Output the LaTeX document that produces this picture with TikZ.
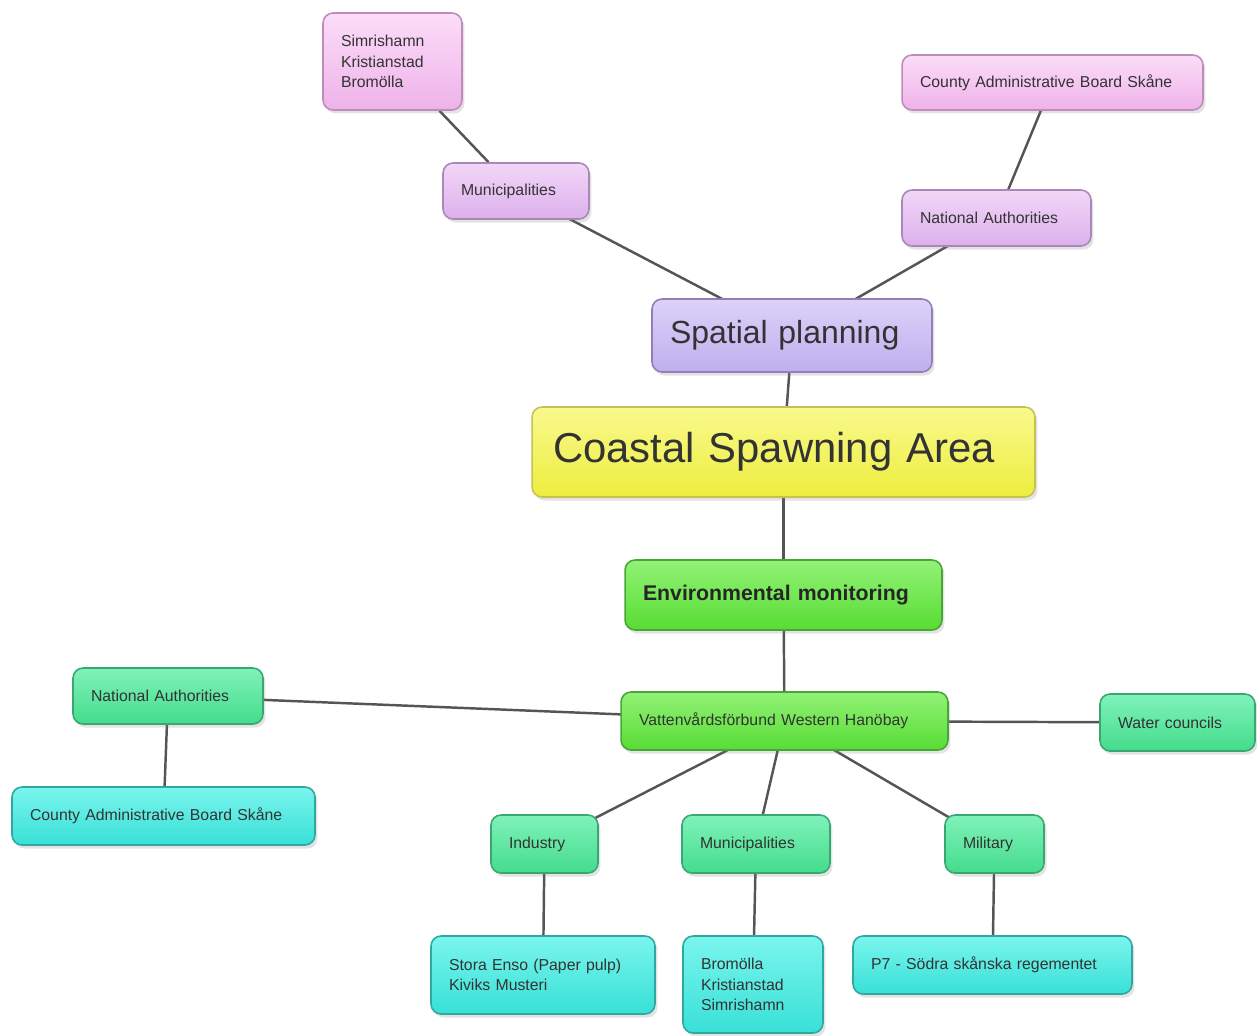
\documentclass[tikz,border=0pt]{standalone}
\usepackage{fontspec}
\setmainfont{Liberation Sans}
\usetikzlibrary{shadows, backgrounds}
\definecolor{pinktop}{HTML}{FBDDF8}
\definecolor{pinkbot}{HTML}{EFB2EA}
\definecolor{pinkline}{HTML}{BE8CB9}
\definecolor{liltop}{HTML}{F2D6F8}
\definecolor{lilbot}{HTML}{DCB0EC}
\definecolor{lilline}{HTML}{A888B5}
\definecolor{lavtop}{HTML}{DCD2F9}
\definecolor{lavbot}{HTML}{C0AEEE}
\definecolor{lavline}{HTML}{8F80B5}
\definecolor{yeltop}{HTML}{F9F98E}
\definecolor{yelbot}{HTML}{EDED3E}
\definecolor{yelline}{HTML}{C8C050}
\definecolor{limtop}{HTML}{92F276}
\definecolor{limbot}{HTML}{58DC34}
\definecolor{limline}{HTML}{48A638}
\definecolor{mintop}{HTML}{80F2BA}
\definecolor{minbot}{HTML}{44DC8C}
\definecolor{minline}{HTML}{3AA672}
\definecolor{cyatop}{HTML}{7AF5EE}
\definecolor{cyabot}{HTML}{38E0D6}
\definecolor{cyaline}{HTML}{2EA8A0}
\definecolor{linkgray}{HTML}{555555}
\tikzset{
  font={\fontsize{9pt}{11.7pt}\selectfont},
  box/.style={draw, shape=rectangle, rounded corners=0.2cm, inner xsep=0.36cm, inner ysep=0pt,
    align=left, text=black!80, line width=0.9pt,
    drop shadow={shadow xshift=0.05cm, shadow yshift=-0.07cm, opacity=0.22}},
  pinkbox/.style={box, top color=pinktop, bottom color=pinkbot, draw=pinkline},
  lilbox/.style={box, top color=liltop, bottom color=lilbot, draw=lilline},
  lavbox/.style={box, top color=lavtop, bottom color=lavbot, draw=lavline},
  yelbox/.style={box, top color=yeltop, bottom color=yelbot, draw=yelline},
  limbox/.style={box, top color=limtop, bottom color=limbot, draw=limline},
  minbox/.style={box, top color=mintop, bottom color=minbot, draw=minline},
  cyabox/.style={box, top color=cyatop, bottom color=cyabot, draw=cyaline},
  link/.style={-, line width=1.4pt, draw=linkgray}
}
\begin{document}
\begin{tikzpicture}[x=0.02cm, y=-0.02cm]
  \useasboundingbox (0,0) rectangle (1257,1035);
  \node (sim1) [pinkbox, text width=2.06cm, minimum height=1.94cm] at (392.5,61.5) {Simrishamn\\Kristianstad\\Bromölla};
  \node (mun1) [lilbox, text width=2.20cm, minimum height=1.12cm] at (516,191) {Municipalities};
  \node (cab1) [pinkbox, text width=5.30cm, minimum height=1.10cm] at (1052.5,82.5) {County Administrative Board Skåne};
  \node (nat1) [lilbox, text width=3.06cm, minimum height=1.12cm] at (996.5,218) {National Authorities};
  \node (sp) [lavbox, text width=4.88cm, minimum height=1.46cm, font={\fontsize{18.2pt}{22pt}\selectfont}] at (792,335.5) {Spatial planning};
  \node (csa) [yelbox, inner xsep=0.42cm, text width=9.22cm, minimum height=1.80cm, font={\fontsize{23.8pt}{28pt}\selectfont}] at (783.5,452) {Coastal Spawning Area};
  \node (em) [limbox, text width=5.62cm, minimum height=1.40cm, font={\fontsize{12.1pt}{14pt}\selectfont\bfseries}, text=black!85] at (783.5,595) {Environmental monitoring};
  \node (vwf) [limbox, text width=5.82cm, minimum height=1.16cm] at (784.5,721) {Vattenvårdsförbund Western Hanöbay};
  \node (nat2) [minbox, text width=3.08cm, minimum height=1.12cm] at (168,696) {National Authorities};
  \node (cab2) [cyabox, text width=5.34cm, minimum height=1.16cm] at (163.5,816) {County Administrative Board Skåne};
  \node (wc) [minbox, text width=2.38cm, minimum height=1.14cm] at (1177.5,722.5) {Water councils};
  \node (ind) [minbox, text width=1.42cm, minimum height=1.16cm] at (544.5,844) {Industry};
  \node (mun2) [minbox, text width=2.24cm, minimum height=1.16cm] at (756,844) {Municipalities};
  \node (mil) [minbox, text width=1.26cm, minimum height=1.16cm] at (994.5,844) {Military};
  \node (se) [cyabox, text width=3.76cm, minimum height=1.56cm] at (543,975) {Stora Enso (Paper pulp)\\Kiviks Musteri};
  \node (brom2) [cyabox, text width=2.08cm, minimum height=1.94cm] at (753,984.5) {Bromölla\\Kristianstad\\Simrishamn};
  \node (p7) [cyabox, text width=4.86cm, minimum height=1.16cm] at (992.5,965) {P7 - Södra skånska regementet};
  \begin{pgfonlayer}{background}
    \draw[link] (sim1) -- (mun1);
    \draw[link] (mun1.center) -- (sp.center);
    \draw[link] (cab1) -- (nat1);
    \draw[link] (nat1.center) -- (sp.center);
    \draw[link] (sp) -- (csa);
    \draw[link] (csa) -- (em);
    \draw[link] (em) -- (vwf);
    \draw[link] (nat2.center) -- (vwf.center);
    \draw[link] (nat2) -- (cab2);
    \draw[link] (vwf.center) -- (wc.center);
    \draw[link] (vwf.center) -- (ind.center);
    \draw[link] (vwf.center) -- (mun2.center);
    \draw[link] (vwf.center) -- (mil.center);
    \draw[link] (ind) -- (se);
    \draw[link] (mun2) -- (brom2);
    \draw[link] (mil) -- (p7);
  \end{pgfonlayer}
\end{tikzpicture}
\end{document}
